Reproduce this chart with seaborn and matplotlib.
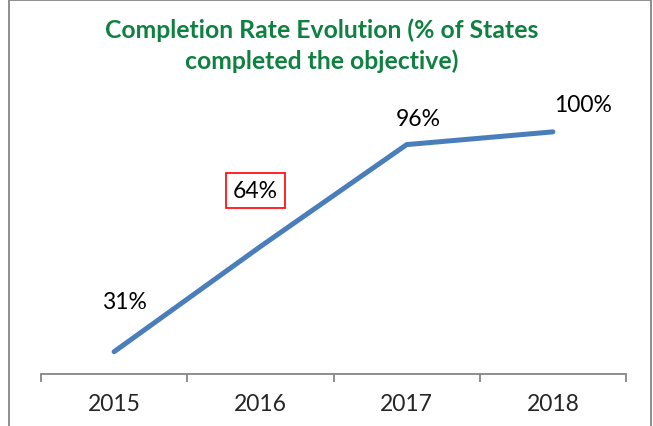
import matplotlib
matplotlib.use("Agg")
import matplotlib.pyplot as plt
import seaborn as sns
import pandas as pd
from matplotlib.patches import Rectangle

years = ["2015", "2016", "2017", "2018"]
rates = [31, 64, 96, 100]
labels = ["31%", "64%", "96%", "100%"]
# label offsets (pixels) from each point, as placed in the original chart
label_offsets = [(10, 50), (-5, 56), (12, 26), (30, 27)]

sns.set_style("white")
plt.rcParams["font.family"] = ["Lato", "DejaVu Sans"]

df = pd.DataFrame({"Year": years, "Rate": rates})

fig = plt.figure(figsize=(6.53, 4.27), dpi=100)
ax = fig.add_axes([41 / 653, 52 / 427, 585 / 653, 274 / 427])

sns.lineplot(data=df, x="Year", y="Rate", ax=ax, color="#4A7EBB",
             linewidth=3.6, solid_capstyle="round", sort=False)

for i, (lab, off) in enumerate(zip(labels, label_offsets)):
    kw = {}
    if lab == "64%":
        kw["bbox"] = dict(boxstyle="square,pad=0.3", fc="white", ec="#FF0000", lw=1.2)
    ax.annotate(lab, (i, rates[i]), xytext=off, textcoords="offset pixels",
                ha="center", va="center", fontsize=16.5, color="black", **kw)

ax.set_xlim(-0.5, 3.5)
ax.set_ylim(24, 110)
ax.set_yticks([])
ax.set_xlabel("")
ax.set_ylabel("")
for s in ["top", "right", "left"]:
    ax.spines[s].set_visible(False)
ax.spines["bottom"].set_color("#868686")
ax.spines["bottom"].set_linewidth(1.3)

ax.set_xticks(range(4))
ax.set_xticklabels(years, fontsize=16.5)
ax.tick_params(axis="x", which="major", length=0, pad=14)
ax.set_xticks([-0.5, 0.5, 1.5, 2.5, 3.5], minor=True)
ax.tick_params(axis="x", which="minor", bottom=True, length=6, width=1.3, color="#868686")

fig.suptitle("Completion Rate Evolution (% of States\ncompleted the objective)",
             x=322 / 653, y=0.958, fontsize=17.8, fontweight="bold",
             color="#0E8040", linespacing=1.4)

# outer chart border
fig.patches.append(Rectangle((9 / 653, -0.05), 642 / 653, 1.047, transform=fig.transFigure,
                             fill=False, ec="#868686", lw=1.3))

fig.savefig("out.png", dpi=100)
